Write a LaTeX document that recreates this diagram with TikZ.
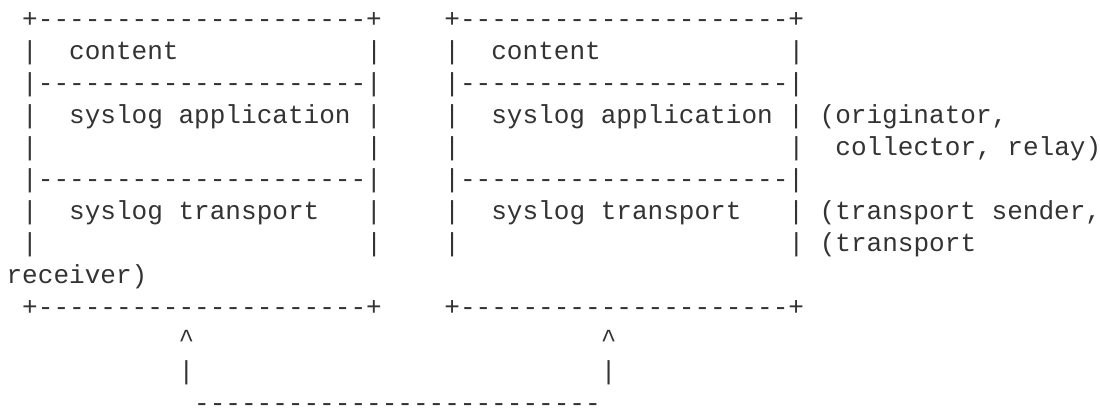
\documentclass[tikz,border=0pt]{standalone}
\usepackage{fontspec}
\usepackage{xcolor}
\setmonofont{Liberation Mono}
\definecolor{ink}{HTML}{333333}
\newcommand{\blank}[1]{\kern#1\fontdimen2\font}

\begin{document}
\begin{tikzpicture}[
    x=7.815pt, y=-16pt,
    row/.style={anchor=base west, inner sep=0pt, outer sep=0pt, text=ink, font=\fontsize{13.03pt}{16pt}\selectfont\ttfamily}
]
\useasboundingbox[fill=white] (-3.3pt,14pt) rectangle (546.7pt,-191.5pt);

% Stack tops
\node[row] (top) at (1,0) {+---------------------+\blank{4}+---------------------+};

% Content layer
\node[row] (content) at (1,1) {|\blank{2}content\blank{12}|\blank{4}|\blank{2}content\blank{12}|};
\node[row] (sepa) at (1,2) {|---------------------|\blank{4}|---------------------|};

% Application layer
\node[row] (app) at (1,3) {|\blank{2}syslog~application~|\blank{4}|\blank{2}syslog~application~|~(originator,};
\node[row] (appb) at (1,4) {|\blank{21}|\blank{4}|\blank{21}|\blank{2}collector,~relay)};
\node[row] (sepb) at (1,5) {|---------------------|\blank{4}|---------------------|};

% Transport layer
\node[row] (trans) at (1,6) {|\blank{2}syslog~transport\blank{3}|\blank{4}|\blank{2}syslog~transport\blank{3}|~(transport~sender,};
\node[row] (transb) at (1,7) {|\blank{21}|\blank{4}|\blank{21}|~(transport};
\node[row] (recv) at (0,8) {receiver)};

% Stack bottoms
\node[row] (bottom) at (1,9) {+---------------------+\blank{4}+---------------------+};

% Link between the stacks
\node[row] (tips) at (11,10) {\textasciicircum\blank{26}\textasciicircum};
\node[row] (stems) at (11,11) {|\blank{26}|};
\node[row] (link) at (12,12) {--------------------------};

\end{tikzpicture}
\end{document}
